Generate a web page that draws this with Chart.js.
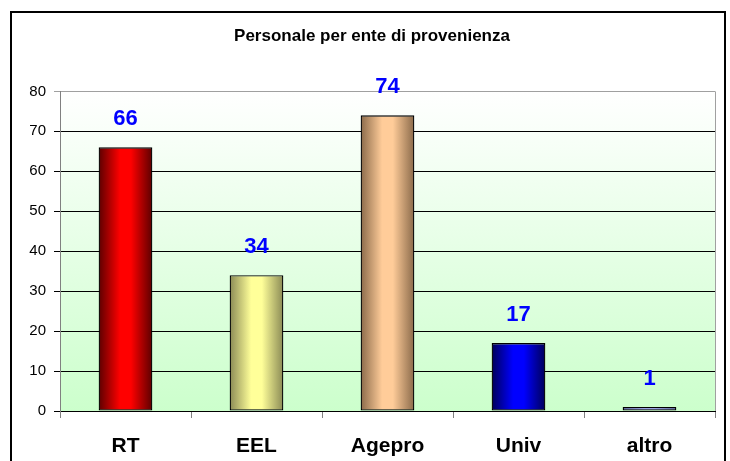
<!DOCTYPE html>
<html>
<head>
<meta charset="utf-8">
<title>Personale per ente di provenienza</title>
<script src="https://cdn.jsdelivr.net/npm/chart.js@4"></script>
<style>
    body { margin: 0; background: #fff; overflow: hidden; }
    #wrap { position: relative; width: 730px; height: 461px; }
    #chart { position: absolute; left: 0; top: 0; }
    #frame {
        position: absolute; left: 10px; top: 11px; width: 712px; height: 470px;
        border: 2px solid #000; pointer-events: none;
    }
</style>
</head>
<body>
<div id="wrap">
    <canvas id="chart" width="730" height="461"></canvas>
    <div id="frame"></div>
</div>
<script>
// data
const categories = ['RT', 'EEL', 'Agepro', 'Univ', 'altro'];
const values = [66, 34, 74, 17, 1];
const yTicks = [0, 10, 20, 30, 40, 50, 60, 70, 80];

// bar shading: edge colour / centre colour
const barEdge = ['#5c0000', '#8a8a55', '#8a6a4a', '#000058', '#4a4a99'];
const barLight = ['#ff0000', '#ffff99', '#ffcc99', '#0000ff', '#9999ff'];
const barPct = 0.41;

document.addEventListener('DOMContentLoaded', function () {
    const ctx = document.getElementById('chart').getContext('2d');

    // white -> pale green behind the plot, grey edge on the right
    const plotBackground = {
        id: 'plotBackground',
        beforeDraw(chart) {
            const a = chart.chartArea;
            const c = chart.ctx;
            const g = c.createLinearGradient(0, a.top, 0, a.bottom);
            g.addColorStop(0, '#ffffff');
            g.addColorStop(1, '#ccffcc');
            c.save();
            c.fillStyle = g;
            c.fillRect(a.left, a.top, a.right - a.left, a.bottom - a.top);
            c.strokeStyle = '#a0a0a0';
            c.lineWidth = 1;
            c.beginPath();
            c.moveTo(Math.round(a.right) + 0.5, a.top);
            c.lineTo(Math.round(a.right) + 0.5, a.bottom);
            c.stroke();
            c.restore();
        }
    };

    // blue value labels above every bar
    const valueLabels = {
        id: 'valueLabels',
        afterDatasetsDraw(chart) {
            const c = chart.ctx;
            const meta = chart.getDatasetMeta(0);
            c.save();
            c.font = 'bold 22px "Liberation Sans", Arial, sans-serif';
            c.fillStyle = '#0000ff';
            c.textAlign = 'center';
            c.textBaseline = 'middle';
            meta.data.forEach(function (bar, i) {
                c.fillText(String(values[i]), bar.x, bar.y - 28);
            });
            c.restore();
        }
    };

    function barFill(context) {
        const chart = context.chart;
        const a = chart.chartArea;
        const i = context.dataIndex;
        if (!a || i === undefined) return barLight[i] || '#888';
        const cx = chart.scales.x.getPixelForValue(i);
        const w = (a.right - a.left) / categories.length * barPct;
        const g = chart.ctx.createLinearGradient(cx - w / 2, 0, cx + w / 2, 0);
        g.addColorStop(0, barEdge[i]);
        g.addColorStop(0.4, barLight[i]);
        g.addColorStop(0.6, barLight[i]);
        g.addColorStop(1, barEdge[i]);
        return g;
    }

    new Chart(ctx, {
        type: 'bar',
        data: {
            labels: categories,
            datasets: [{
                data: values,
                backgroundColor: barFill,
                borderColor: '#000',
                borderWidth: 1.3,
                borderSkipped: false,
                barPercentage: barPct,
                categoryPercentage: 1
            }]
        },
        options: {
            responsive: false,
            animation: false,
            layout: { padding: { left: 29, right: 15, top: 0, bottom: 0 } },
            plugins: {
                legend: { display: false },
                tooltip: { enabled: false },
                title: {
                    display: true,
                    text: 'Personale per ente di provenienza',
                    color: '#000',
                    font: { family: '"Liberation Sans", Arial, sans-serif', size: 17, weight: 'bold' },
                    padding: { top: 26, bottom: 45 }
                }
            },
            scales: {
                x: {
                    grid: { offset: true, drawOnChartArea: false, tickLength: 7, color: '#808080' },
                    border: { color: '#000' },
                    ticks: {
                        color: '#000',
                        padding: 16,
                        font: { family: '"Liberation Sans", Arial, sans-serif', size: 21, weight: 'bold' }
                    },
                    afterFit: function (scale) { scale.height = 50; }
                },
                y: {
                    min: yTicks[0],
                    max: yTicks[yTicks.length - 1],
                    afterBuildTicks: function (scale) {
                        scale.ticks = yTicks.map(v => ({ value: v }));
                    },
                    grid: {
                        tickLength: 6,
                        color: c => (c.tick && c.tick.value === 80 ? '#a0a0a0' : '#000')
                    },
                    border: { color: '#808080' },
                    ticks: {
                        color: '#000',
                        padding: 8,
                        font: { family: '"Liberation Sans", Arial, sans-serif', size: 15 }
                    },
                    afterFit: function (scale) { scale.width = 31; }
                }
            }
        },
        plugins: [plotBackground, valueLabels]
    });
});
</script>
</body>
</html>
